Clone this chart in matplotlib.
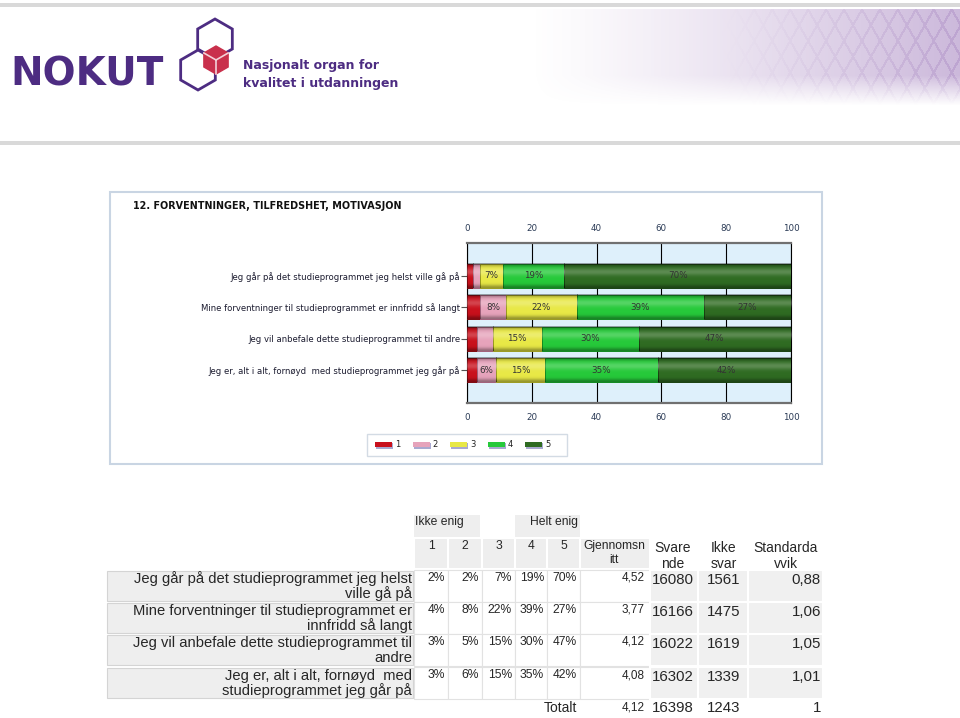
import matplotlib.pyplot as plt
import numpy as np
from matplotlib.patches import Rectangle, Polygon

# data from the slide
statements = ["Jeg går på det studieprogrammet jeg helst ville gå på",
              "Mine forventninger til studieprogrammet er innfridd så langt",
              "Jeg vil anbefale dette studieprogrammet til andre",
              "Jeg er, alt i alt, fornøyd  med studieprogrammet jeg går på"]
table_labels = [["Jeg går på det studieprogrammet jeg helst", "ville gå på"],
                ["Mine forventninger til studieprogrammet er", "innfridd så langt"],
                ["Jeg vil anbefale dette studieprogrammet til", "andre"],
                ["Jeg er, alt i alt, fornøyd  med", "studieprogrammet jeg går på"]]
scale = ["1", "2", "3", "4", "5"]
pct = [[2, 2, 7, 19, 70],
       [4, 8, 22, 39, 27],
       [3, 5, 15, 30, 47],
       [3, 6, 15, 35, 42]]
mean = ["4,52", "3,77", "4,12", "4,08"]
answered = ["16080", "16166", "16022", "16302"]
no_answer = ["1561", "1475", "1619", "1339"]
stdev = ["0,88", "1,06", "1,05", "1,01"]
total = ["4,12", "16398", "1243", "1"]
ticks = [0, 20, 40, 60, 80, 100]

colors = ['#c8101c', '#e6a3bb', '#e8e846', '#26c93a', '#2f6b22']
edges = ['#7e0a10', '#a0607a', '#9a9a20', '#138a22', '#1a4212']
purple = '#4d2c82'

fig = plt.figure(figsize=(9.6, 7.18), dpi=100)
bg = fig.add_axes([0, 0, 1, 1])
bg.set_xlim(0, 960)
bg.set_ylim(718, 0)
bg.axis('off')

# header bars
bg.add_patch(Rectangle((0, 3), 960, 4, color='#d9d9d9', lw=0))
bg.add_patch(Rectangle((0, 141), 960, 4, color='#d9d9d9', lw=0))

# purple banner on the right
h, w = 96, 480
yy, xx = np.mgrid[0:h, 0:w]
fx = xx / w
fade = np.clip((h - yy) / 30, 0, 1)
alpha = np.clip((fx - 0.1) / 0.9, 0, 1) ** 1.2 * 0.5 * fade
pattern = (np.sin(xx * 0.35 + yy * 0.2) > 0.9) | (np.sin(xx * 0.35 - yy * 0.2) > 0.9)
alpha = alpha + pattern * np.clip((fx - 0.5) / 0.5, 0, 1) * 0.15 * fade
img = np.zeros((h, w, 4))
img[..., 0], img[..., 1], img[..., 2] = 0.60, 0.45, 0.72
img[..., 3] = np.clip(alpha, 0, 1)
bg.imshow(img, extent=(480, 960, 105, 9), aspect='auto', zorder=0)

# logo
bg.text(10, 75, "NOKUT", fontsize=28, fontweight='bold', color=purple, va='center', ha='left')


def hexagon(cx, cy, r):
    a = np.radians(90 + 60 * np.arange(6))
    return np.column_stack([cx + r * np.cos(a), cy - r * np.sin(a)])


bg.add_patch(Polygon(hexagon(215, 39, 20), closed=True, fill=False, ec=purple, lw=2))
bg.add_patch(Polygon(hexagon(198, 70, 20), closed=True, fill=False, ec=purple, lw=2))
cube = hexagon(216, 60, 14)
bg.add_patch(Polygon(cube, closed=True, fc='#c9304c', ec='#c9304c', lw=1, zorder=3))
for k in (1, 3, 5):
    bg.plot([216, cube[k, 0]], [60, cube[k, 1]], color='#f3d0d8', lw=1.2, zorder=4)
bg.text(243, 66, "Nasjonalt organ for", fontsize=9, fontweight='bold', color=purple,
        va='center', family=['Liberation Sans Narrow', 'DejaVu Sans'])
bg.text(243, 84, "kvalitet i utdanningen", fontsize=9, fontweight='bold', color=purple,
        va='center', family=['Liberation Sans Narrow', 'DejaVu Sans'])

# chart panel
bg.add_patch(Rectangle((110, 192), 712, 272, fc='white', ec='#c9d5e3', lw=1.5))
bg.text(133, 206, "12. FORVENTNINGER, TILFREDSHET, MOTIVASJON", fontsize=6.9,
        fontweight='bold', color='#111111', va='center')

ax = fig.add_axes([467 / 960, 1 - 403 / 718, (791 - 467) / 960, 160 / 718])
ax.set_facecolor('#def0fb')
ypos = np.arange(len(statements))
data = np.array(pct)
left = np.zeros(len(statements))

# vertical shading for the 3D bar look
t = np.linspace(0, 1, 40)
shade = np.zeros((40, 1, 4))
shade[..., 3] = (0.35 * np.exp(-(t / 0.12) ** 2) + 0.35 * np.exp(-((1 - t) / 0.12) ** 2))[:, None]
shine = np.ones((40, 1, 4))
shine[..., 3] = (0.22 * np.exp(-((t - 0.35) / 0.15) ** 2))[:, None]

for j in range(len(scale)):
    bars = ax.barh(ypos, data[:, j], left=left, height=0.76, color=colors[j],
                   edgecolor=edges[j], lw=0.7, zorder=3)
    for i, b in enumerate(bars):
        ext = (b.get_x(), b.get_x() + b.get_width(), b.get_y() + b.get_height(), b.get_y())
        for arr in (shade, shine):
            ax.imshow(arr, extent=ext, aspect='auto', zorder=3.5, interpolation='bilinear')
        if data[i, j] >= 6:
            ax.text(left[i] + data[i, j] / 2, ypos[i], f"{data[i, j]}%", ha='center',
                    va='center', fontsize=6.3, color='#333333', zorder=4)
    left += data[:, j]
ax.set_xlim(0, 100)
ax.set_ylim(3 + 1.03, -1.03)
ax.set_xticks(ticks)
ax.set_yticks(ypos)
ax.set_yticklabels(statements, fontsize=6.1, color='#1c1c30')
ax.tick_params(axis='x', top=False, bottom=False, labeltop=True, labelsize=6.3,
               labelcolor='#2a3a55', pad=4)
ax.tick_params(axis='y', length=4, color='#555555', pad=1)
ax.grid(axis='x', color='black', lw=0.8, zorder=1)
for s in ('top', 'bottom'):
    ax.spines[s].set_color('#707070')
    ax.spines[s].set_linewidth(1.6)
for s in ('left', 'right'):
    ax.spines[s].set_color('black')
    ax.spines[s].set_linewidth(0.8)

# legend
bg.add_patch(Rectangle((367, 434), 200, 22, fc='white', ec='#d3dbe4', lw=1))
for j, lab in enumerate(scale):
    x0 = 375 + 37.6 * j
    bg.add_patch(Rectangle((x0 + 1, 443), 17, 5.5, fc='#a9a9d0', lw=0))
    bg.add_patch(Rectangle((x0, 441.5), 17, 5.5, fc=colors[j], lw=0))
    bg.text(x0 + 20, 444.5, lab, fontsize=6, va='center', color='#222222')

# table
tfont = ['Liberation Sans', 'DejaVu Sans']
tc = '#262626'
gray = '#eeeeee'
row_tops = [570, 602, 634, 667]
col_edges = [414, 448, 482, 515, 547, 580, 650]
right_edges = [650, 698, 748, 823]

bg.add_patch(Rectangle((414, 515), 66, 22, fc=gray, lw=0))
bg.add_patch(Rectangle((515, 515), 65, 22, fc=gray, lw=0))
bg.text(415, 522, "Ikke enig", fontsize=8.7, va='center', ha='left', family=tfont, color=tc)
bg.text(578, 522, "Helt enig", fontsize=8.7, va='center', ha='right', family=tfont, color=tc)
for c in range(6):
    bg.add_patch(Rectangle((col_edges[c], 538), col_edges[c + 1] - col_edges[c], 31,
                           fc=gray, ec='white', lw=1.5))
for c, lab in enumerate(scale):
    bg.text((col_edges[c] + col_edges[c + 1]) / 2, 546, lab, fontsize=8.7, ha='center',
            va='center', family=tfont, color=tc)
bg.text(614, 546, "Gjennomsn", fontsize=8.7, ha='center', va='center', family=tfont, color=tc)
bg.text(614, 560, "itt", fontsize=8.7, ha='center', va='center', family=tfont, color=tc)
for cx, l1, l2 in [(673, "Svare", "nde"), (724, "Ikke", "svar"), (786, "Standarda", "vvik")]:
    bg.text(cx, 548, l1, fontsize=10, ha='center', va='center', family=tfont, color=tc)
    bg.text(cx, 564, l2, fontsize=10, ha='center', va='center', family=tfont, color=tc)

for i, top in enumerate(row_tops):
    bg.add_patch(Rectangle((107, top + 1), 306, 30, fc=gray, ec='#d4d4d4', lw=0.8))
    bg.text(412, top + 9, table_labels[i][0], fontsize=10.6, ha='right', va='center',
            family=tfont, color=tc)
    bg.text(412, top + 24, table_labels[i][1], fontsize=10.6, ha='right', va='center',
            family=tfont, color=tc)
    for c in range(6):
        bg.add_patch(Rectangle((col_edges[c], top), col_edges[c + 1] - col_edges[c], 32,
                               fc='white', ec='#e2e2e2', lw=0.8))
    for c in range(3):
        bg.add_patch(Rectangle((right_edges[c], top), right_edges[c + 1] - right_edges[c], 32,
                               fc='#f0f0f0', ec='white', lw=1.5))
    for c in range(5):
        bg.text(col_edges[c + 1] - 3, top + 8, f"{pct[i][c]}%", fontsize=8.7, ha='right',
                va='center', family=tfont, color=tc)
    bg.text(645, top + 8, mean[i], fontsize=8.5, ha='right', va='center', family=tfont, color=tc)
    bg.text(673, top + 10, answered[i], fontsize=10.8, ha='center', va='center', family=tfont, color=tc)
    bg.text(724, top + 10, no_answer[i], fontsize=10.8, ha='center', va='center', family=tfont, color=tc)
    bg.text(821, top + 10, stdev[i], fontsize=10.8, ha='right', va='center', family=tfont, color=tc)

bg.text(560, 708, "Totalt", fontsize=10, ha='center', va='center', family=tfont, color=tc)
bg.text(645, 707, total[0], fontsize=8.5, ha='right', va='center', family=tfont, color=tc)
bg.text(673, 708, total[1], fontsize=10.8, ha='center', va='center', family=tfont, color=tc)
bg.text(724, 708, total[2], fontsize=10.8, ha='center', va='center', family=tfont, color=tc)
bg.text(821, 708, total[3], fontsize=10.8, ha='right', va='center', family=tfont, color=tc)

fig.savefig('out.png', dpi=100)
